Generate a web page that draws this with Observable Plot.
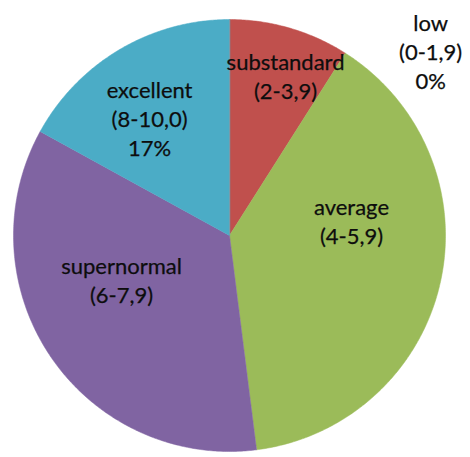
<!DOCTYPE html>
<html><head><meta charset="utf-8">
<script src="https://cdn.jsdelivr.net/npm/d3@7"></script>
<script src="https://cdn.jsdelivr.net/npm/@observablehq/plot@0.6"></script>
<style>html,body{margin:0;padding:0;background:#fff}</style>
</head><body><div id="chart"></div>
<script>
// Data
const categories = ["low", "substandard", "average", "supernormal", "excellent"];
const ranges = ["(0-1,9)", "(2-3,9)", "(4-5,9)", "(6-7,9)", "(8-10,0)"];
const shares = [0, 9, 39, 35, 17];
const showPercent = [true, false, false, false, true];
const colors = ["#4F81BD", "#C0504D", "#9BBB59", "#8064A2", "#4BACC6"];

// Label layout (angle in degrees clockwise from top, radius as fraction of pie radius)
const labelLayout = {
  low: [47.4, 1.265],
  substandard: [19.3, 0.785],
  average: [83, 0.569],
  supernormal: [247.8, 0.54],
  excellent: [325.9, 0.66]
};

const rows = categories.map((c, i) => ({category: c, range: ranges[i], value: shares[i], pct: showPercent[i]}));
const arcs = d3.pie().sort(null).value(d => d.value)(rows);

const slicePts = [];
arcs.forEach(a => {
  const span = a.endAngle - a.startAngle;
  if (span <= 0) return;
  slicePts.push({category: a.data.category, x: 0, y: 0});
  const n = Math.max(2, Math.ceil(span / (Math.PI / 360)));
  for (let k = 0; k <= n; k++) {
    const t = a.startAngle + span * k / n;
    slicePts.push({category: a.data.category, x: Math.sin(t), y: Math.cos(t)});
  }
});

const labels = rows.map(r => {
  const [deg, rf] = labelLayout[r.category];
  const t = deg * Math.PI / 180;
  return {
    x: rf * Math.sin(t), y: rf * Math.cos(t),
    text: r.category + "\n" + r.range + (r.pct ? "\n" + r.value + "%" : "")
  };
});

const cx = 229, cy = 235, R = 216;
const chart = Plot.plot({
  width: 470, height: 457,
  margin: 0,
  style: {background: "#fff", fontFamily: "Lato, sans-serif"},
  x: {domain: [-1, 1], range: [cx - R, cx + R], axis: null},
  y: {domain: [-1, 1], range: [cy + R, cy - R], axis: null},
  color: {domain: categories, range: colors},
  marks: [
    Plot.line(slicePts, {x: "x", y: "y", z: "category", fill: "category", stroke: "category", strokeWidth: 0.5, curve: "linear-closed"}),
    Plot.text(labels, {x: "x", y: "y", text: "text", fontSize: 22, lineHeight: 1.32, fill: "#0d0d0d", stroke: "#0d0d0d", strokeWidth: 0.25, textAnchor: "middle"})
  ]
});
document.getElementById("chart").appendChild(chart);
</script>
</body></html>
